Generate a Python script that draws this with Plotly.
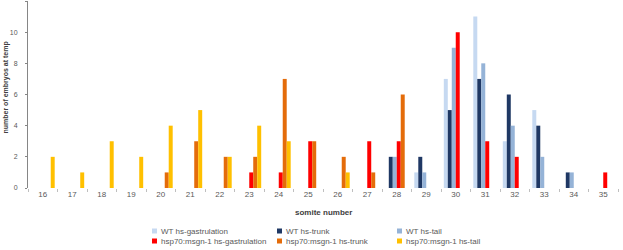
import plotly.graph_objects as go

categories = [str(s) for s in range(16, 36)]

wt_gastrulation = [0, 0, 0, 0, 0, 0, 0, 0, 0, 0, 0, 0, 0, 1, 7, 11, 3, 5, 0, 0]
wt_trunk        = [0, 0, 0, 0, 0, 0, 0, 0, 0, 0, 0, 0, 2, 2, 5, 7, 6, 4, 1, 0]
wt_tail         = [0, 0, 0, 0, 0, 0, 0, 0, 0, 0, 0, 0, 2, 1, 9, 8, 4, 2, 1, 0]
msgn_gastrulation = [0, 0, 0, 0, 0, 0, 0, 1, 1, 3, 0, 3, 3, 0, 10, 3, 2, 0, 0, 1]
msgn_trunk        = [0, 0, 0, 0, 1, 3, 2, 2, 7, 3, 2, 1, 6, 0, 0, 0, 0, 0, 0, 0]
msgn_tail         = [2, 1, 3, 2, 4, 5, 2, 4, 3, 0, 1, 0, 0, 0, 0, 0, 0, 0, 0, 0]

series_names = [
    "WT hs-gastrulation", "WT hs-trunk", "WT hs-tail",
    "hsp70:msgn-1 hs-gastrulation", "hsp70:msgn-1 hs-trunk", "hsp70:msgn-1 hs-tail",
]
series_values = [wt_gastrulation, wt_trunk, wt_tail,
                 msgn_gastrulation, msgn_trunk, msgn_tail]
series_colors = ["#C6D9F1", "#1F3864", "#95B3D7", "#FF0000", "#E46C0A", "#FFC000"]

y_title = "number of embryos at temp"
x_title = "somite number"

W, H = 623, 250
ML, MR, MT, MB = 28, 5, 1, 62
PW, PH = W - ML - MR, H - MT - MB


def px_x(x):
    return (x - ML) / PW


def px_y(y):
    return (H - MB - y) / PH


fig = go.Figure()
for name, vals, col in zip(series_names, series_values, series_colors):
    fig.add_trace(go.Bar(x=categories, y=vals, name=name, marker_color=col,
                         marker_line_width=0, showlegend=False))

font = "Liberation Sans, Arial, sans-serif"
grey = "#595959"

annotations = [
    dict(text=f"<b>{x_title}</b>", x=px_x(323), y=px_y(212), xref="paper", yref="paper",
         showarrow=False, font=dict(family=font, size=8, color="#404040"),
         xanchor="center", yanchor="middle"),
    dict(text=f"<b>{y_title}</b>", x=px_x(5.5), y=px_y(88), xref="paper", yref="paper",
         showarrow=False, textangle=-90, font=dict(family=font, size=7, color="#404040"),
         xanchor="center", yanchor="middle"),
]
shapes = []
col_x = [152, 277, 397]
row_y = [231, 241]
for i, (name, col) in enumerate(zip(series_names, series_colors)):
    cx = col_x[i % 3]
    cy = row_y[i // 3]
    shapes.append(dict(type="rect", xref="paper", yref="paper",
                       x0=px_x(cx), x1=px_x(cx + 5), y0=px_y(cy + 2.5), y1=px_y(cy - 2.5),
                       fillcolor=col, line_width=0))
    annotations.append(dict(text=name, x=px_x(cx + 7), y=px_y(cy), xref="paper", yref="paper",
                            showarrow=False, xanchor="left", yanchor="middle",
                            font=dict(family=font, size=8, color=grey)))

fig.update_layout(
    width=W, height=H,
    margin=dict(l=ML, r=MR, t=MT, b=MB),
    barmode="group", bargap=0.19, bargroupgap=0,
    plot_bgcolor="white", paper_bgcolor="white",
    showlegend=False,
    annotations=annotations, shapes=shapes,
    xaxis=dict(type="category", range=[-0.5, 19.5], showline=False, showgrid=False,
               ticks="outside", ticklen=3, tickcolor="#BFBFBF", tickson="boundaries",
               tickfont=dict(family=font, size=8, color=grey), zeroline=False),
    yaxis=dict(range=[0, 12], dtick=2, showline=True, linecolor="#868686", linewidth=1,
               showgrid=False, zeroline=False, ticks="outside", ticklen=2,
               tickcolor="#868686", ticklabelstandoff=6,
               tickfont=dict(family=font, size=7, color=grey)),
)

fig.write_html("out.html")
